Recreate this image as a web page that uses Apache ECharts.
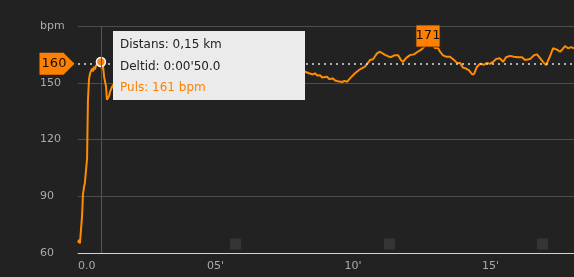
<!DOCTYPE html>
<html>
<head>
<meta charset="utf-8">
<script src="https://cdn.jsdelivr.net/npm/echarts@6/dist/echarts.min.js"></script>
<style>
html,body{margin:0;padding:0;background:#222222;}
#chart{width:574px;height:277px;}
</style>
</head>
<body>
<div id="chart"></div>
<script>
// time in minutes
const times = [
  0, 0.04, 0.07, 0.11, 0.15, 0.18, 0.22, 0.25, 0.29, 0.33,
  0.36, 0.40, 0.44, 0.47, 0.51, 0.55, 0.58, 0.62, 0.65, 0.69,
  0.73, 0.76, 0.8333, 0.87, 0.91, 0.95, 0.98, 1.02, 1.05, 1.09,
  1.13, 1.16, 1.20, 1.24, 1.27, 1.45, 1.67, 1.89, 2.25, 2.62,
  3.16, 3.71, 4.44, 5.16, 5.89, 6.62, 7.35, 7.89,
  8.255, 8.327, 8.40, 8.47, 8.545, 8.618, 8.70, 8.80, 8.88, 8.95,
  9.055, 9.13, 9.20, 9.273, 9.35, 9.418, 9.50, 9.60, 9.69, 9.782,
  9.891, 10.073, 10.255, 10.436, 10.618, 10.727, 10.873, 10.982, 11.164, 11.309,
  11.382, 11.527, 11.636, 11.745, 11.818, 11.927, 12.073, 12.218, 12.364, 12.509,
  12.618, 12.727, 12.873, 12.982, 13.091, 13.164, 13.273, 13.382, 13.527, 13.673,
  13.782, 13.891, 14.0, 14.109, 14.218, 14.327, 14.4, 14.509, 14.618, 14.764,
  14.873, 14.982, 15.091, 15.2, 15.345, 15.455, 15.564, 15.709, 15.855, 16.0,
  16.145, 16.255, 16.327, 16.436, 16.582, 16.691, 16.8, 16.909, 17.018, 17.164,
  17.273, 17.418, 17.527, 17.636, 17.709, 17.818, 17.927, 18.036
];
const bpm = [
  65.5, 67, 65, 66, 80, 91, 95, 97, 97, 110,
  140, 152, 155, 156, 157.5, 156, 158.5, 157, 159, 158,
  160, 159, 161, 157, 159, 153, 154, 148, 141, 142,
  143, 145, 146, 148, 149, 152, 156, 158, 159, 160,
  159.5, 160, 158.5, 159, 158, 158.5, 157.5, 157,
  155.8, 156.5, 155, 155.8, 154.4, 155, 153.8, 154, 152.8, 153.5,
  153.2, 152, 152.6, 152.3, 151.2, 151.4, 150.6, 150.4, 151, 150.5,
  152.3, 155, 157.1, 158.5, 162, 162.4, 165.5, 166.4, 164.7, 163.8,
  163.6, 164.6, 164.6, 162, 161, 163, 164.6, 165, 166.5, 167.8,
  169.5, 171, 170, 168.4, 168.4, 166.4, 164.5, 163.8, 163.8, 162,
  160.5, 160.5, 158, 157.5, 156.5, 154.5, 154.5, 158.5, 160, 159.5,
  160.5, 160, 161, 162.5, 162.9, 161, 163.5, 164.2, 163.8, 163.5,
  163.5, 162, 163, 162.5, 164.5, 165, 163, 161, 159.3, 164,
  168.2, 167.5, 166.4, 168, 169.4, 168.2, 168.8, 168.2
];
const avgBpm = 160;
const kmMarkerTimes = [5.73, 11.33, 16.89];
const yTicks = [60, 90, 120, 150, 180];
const xTickLabels = {0: '0.0', 5: "05'", 10: "10'", 15: "15'"};
const tipIndex = 22;
const tipDistance = '0,15';

const ORANGE = '#ff7f00';
const lineData = times.map((t, i) => [t, bpm[i]]);

function fmtTime(min) {
  const totalSec = min * 60;
  const m = Math.floor(totalSec / 60);
  const s = totalSec - m * 60;
  const ss = s.toFixed(1).padStart(4, '0');
  return '0:' + String(m).padStart(2, '0') + "'" + ss;
}

const chart = echarts.init(document.getElementById('chart'), null, {renderer: 'canvas'});
chart.setOption({
  animation: false,
  backgroundColor: '#222222',
  textStyle: {fontFamily: 'DejaVu Sans'},
  grid: {left: 78, right: 0, top: 26, bottom: 24},
  tooltip: {
    trigger: 'axis',
    alwaysShowContent: true,
    transitionDuration: 0,
    backgroundColor: '#ebebeb',
    borderWidth: 0,
    padding: 0,
    axisPointer: {type: 'line', snap: true, lineStyle: {color: '#555', width: 1, type: 'solid'}, animation: false},
    extraCssText: 'box-shadow:none;border-radius:0;box-sizing:border-box;width:192px;height:69px;padding:3px 8px 0 7px;',
    position: function () { return [113, 31]; },
    formatter: function (params) {
      const p = params.find(q => q.seriesIndex === 0) || params[0];
      const i = p.dataIndex;
      return '<div style="font-family:DejaVu Sans;font-size:12px;line-height:21.5px;color:#222;">' +
        'Distans: ' + tipDistance + ' km<br>' +
        'Deltid: ' + fmtTime(times[i]) + '<br>' +
        '<span style="color:' + ORANGE + '">Puls: ' + Math.round(bpm[i]) + ' bpm</span></div>';
    }
  },
  xAxis: {
    type: 'value',
    min: 0,
    max: times[times.length - 1],
    interval: 5,
    axisLine: {show: true, lineStyle: {color: '#c9d4e3', width: 1}},
    axisTick: {show: false},
    splitLine: {show: false},
    axisLabel: {
      color: '#aaaaaa', fontSize: 11, margin: 8,
      showMaxLabel: false,
      alignMinLabel: 'left',
      formatter: v => (xTickLabels[v] !== undefined ? xTickLabels[v] : '')
    }
  },
  yAxis: {
    type: 'value',
    min: yTicks[0],
    max: yTicks[yTicks.length - 1],
    interval: 30,
    axisLine: {show: false},
    axisTick: {show: false},
    splitLine: {lineStyle: {color: '#4d4d4d', width: 1}},
    axisLabel: {
      color: '#aaaaaa', fontSize: 11, align: 'left', margin: 38,
      formatter: v => (v === 180 ? 'bpm' : String(v))
    }
  },
  series: [
    {
      type: 'line',
      data: lineData,
      showSymbol: false,
      symbol: 'circle',
      symbolSize: 8,
      itemStyle: {color: ORANGE, borderColor: '#fff', borderWidth: 1.5},
      lineStyle: {color: ORANGE, width: 2},
      emphasis: {disabled: false, scale: false},
      z: 3,
      markLine: {
        silent: true,
        symbol: ['none', 'none'],
        label: {show: false},
        lineStyle: {color: '#dddddd', type: [2, 4], width: 1.5},
        data: [{yAxis: avgBpm}]
      },
      markPoint: {
        silent: true,
        data: [
          {
            type: 'max',
            symbol: 'rect',
            symbolSize: [24, 22],
            symbolOffset: [0, -7],
            itemStyle: {color: ORANGE, borderColor: '#3a2a1a', borderWidth: 0.8},
            label: {show: true, color: '#111', fontSize: 13, fontFamily: 'DejaVu Sans', offset: [0, 0], formatter: p => String(Math.round(p.value))}
          },
          {
            coord: [0, avgBpm],
            value: avgBpm,
            symbol: 'path://M0,0 L24,0 L35,11 L24,22 L0,22 Z',
            symbolSize: [35, 22],
            symbolKeepAspect: false,
            symbolOffset: [-21, 0],
            itemStyle: {color: ORANGE},
            label: {show: true, color: '#111', fontSize: 13, fontFamily: 'DejaVu Sans', offset: [-3, 0], formatter: p => String(p.value)}
          },
          {
            coord: [times[tipIndex], bpm[tipIndex]],
            symbol: 'circle',
            symbolSize: 9,
            itemStyle: {color: ORANGE, borderColor: '#ffffff', borderWidth: 1.5},
            label: {show: false}
          }
        ]
      }
    },
    {
      type: 'scatter',
      data: kmMarkerTimes.map(t => [t, yTicks[0]]),
      symbol: 'rect',
      symbolSize: 11,
      symbolOffset: [0, -9],
      itemStyle: {color: '#3b3b3b'},
      silent: true,
      clip: false,
      tooltip: {show: false},
      z: 1
    }
  ]
});
chart.dispatchAction({type: 'showTip', seriesIndex: 0, dataIndex: tipIndex});
</script>
</body>
</html>
